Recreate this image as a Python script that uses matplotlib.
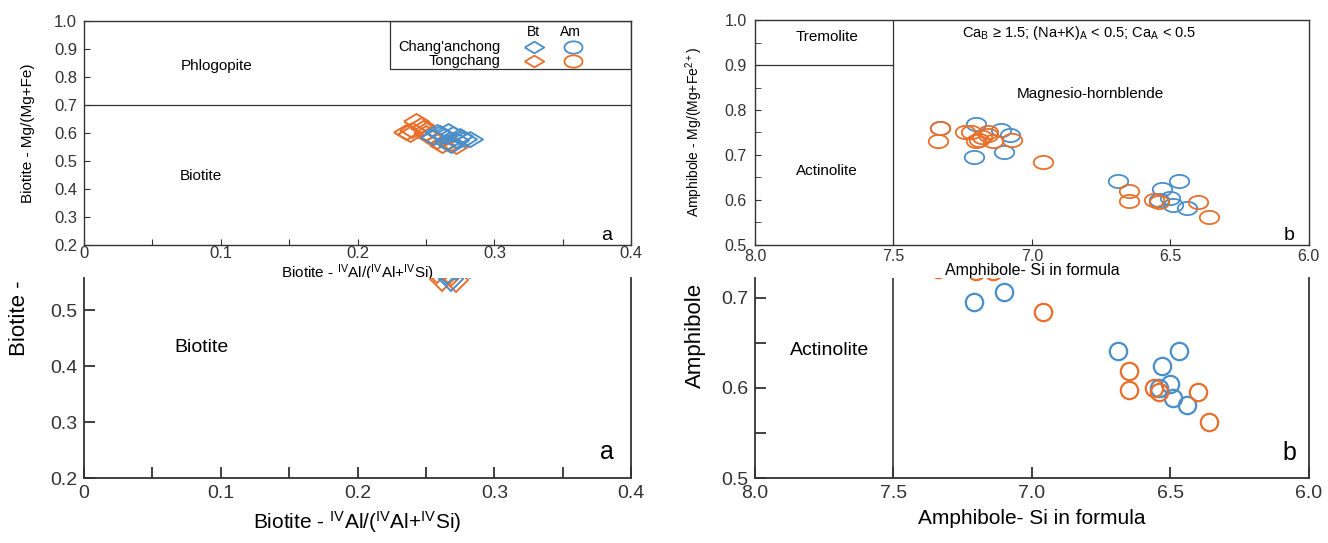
import numpy as np
import matplotlib
matplotlib.use("Agg")
import matplotlib.pyplot as plt
from matplotlib.patches import Rectangle

plt.rcParams["font.family"] = ["Liberation Sans", "DejaVu Sans"]
plt.rcParams["mathtext.fontset"] = "custom"
plt.rcParams["mathtext.rm"] = "Liberation Sans"
plt.rcParams["mathtext.it"] = "Liberation Sans:italic"

# ── Data ──────────────────────────────────────────────────────────
bt_chang_x = [0.255, 0.260, 0.263, 0.266, 0.270, 0.272, 0.275, 0.278, 0.282, 0.265, 0.258, 0.268]
bt_chang_y = [0.585, 0.600, 0.590, 0.606, 0.598, 0.575, 0.590, 0.580, 0.578, 0.568, 0.605, 0.556]
bt_tong_x = [0.235, 0.240, 0.243, 0.246, 0.250, 0.252, 0.255, 0.258, 0.262, 0.268, 0.272, 0.248, 0.238]
bt_tong_y = [0.603, 0.612, 0.643, 0.628, 0.600, 0.590, 0.585, 0.570, 0.556, 0.565, 0.553, 0.618, 0.598]

am_chang_si = [7.33, 7.20, 7.21, 7.11, 7.08, 7.10, 6.69, 6.47, 6.53, 6.50, 6.49, 6.44, 6.54]
am_chang_mg = [0.759, 0.769, 0.695, 0.756, 0.744, 0.707, 0.641, 0.641, 0.624, 0.604, 0.589, 0.581, 0.600]
am_tong_si = [7.34, 7.33, 7.24, 7.22, 7.20, 7.18, 7.16, 7.19, 7.14, 7.07, 7.16,
              6.96, 6.65, 6.65, 6.56, 6.54, 6.40, 6.36]
am_tong_mg = [0.732, 0.759, 0.752, 0.750, 0.730, 0.741, 0.744, 0.733, 0.730, 0.733, 0.752,
              0.684, 0.619, 0.598, 0.600, 0.596, 0.595, 0.562]

bt_xticks = [0, 0.05, 0.1, 0.15, 0.2, 0.25, 0.3, 0.35, 0.4]
bt_xlabels = ["0", "", "0.1", "", "0.2", "", "0.3", "", "0.4"]
am_xticks = [8.0, 7.5, 7.0, 6.5, 6.0]
am_xlabels = ["8.0", "7.5", "7.0", "6.5", "6.0"]

BLUE = "#4a8fc9"
ORANGE = "#e8702a"
LINE = "#333333"

# squashed marker shapes for the upper (vertically compressed) panels
t = np.linspace(0, 2 * np.pi, 60)
ellipse = np.column_stack([np.cos(t), 0.68 * np.sin(t)])
flat_diamond = [(-1, 0), (0, 0.6), (1, 0), (0, -0.6), (-1, 0)]

fig = plt.figure(figsize=(13.28, 5.43), dpi=100)

ax_bt = fig.add_axes([0.0633, 0.549, 0.412, 0.412])
ax_am = fig.add_axes([0.5685, 0.549, 0.417, 0.414])
ax_bt2 = fig.add_axes([0.0633, 0.1197, 0.412, 0.368])
ax_am2 = fig.add_axes([0.5685, 0.1197, 0.417, 0.368])


def style(ax, lw=1.0):
    for s in ax.spines.values():
        s.set_color(LINE)
        s.set_linewidth(lw)
    ax.tick_params(direction="in", which="both", top=False, right=False, colors=LINE)


# ── Biotite (top) ─────────────────────────────────────────────────
ax = ax_bt
style(ax)
ax.axhline(0.7, color=LINE, lw=0.9)
ax.plot(bt_tong_x, bt_tong_y, ls="none", marker=flat_diamond, ms=18,
        mfc="none", mec=ORANGE, mew=1.4)
ax.plot(bt_chang_x, bt_chang_y, ls="none", marker=flat_diamond, ms=18,
        mfc="none", mec=BLUE, mew=1.4)
ax.set_xlim(0, 0.4)
ax.set_ylim(0.2, 1.0)
ax.set_xticks(bt_xticks)
ax.set_xticklabels(bt_xlabels)
ax.set_yticks(np.arange(0.2, 1.01, 0.1))
ax.tick_params(axis="both", which="major", labelsize=12, length=4)
ax.tick_params(axis="x", which="major", pad=1)
ax.tick_params(axis="y", which="major", pad=5)
ax.set_xlabel(r"Biotite - $^{\mathrm{IV}}$Al/($^{\mathrm{IV}}$Al+$^{\mathrm{IV}}$Si)",
              fontsize=11, labelpad=1)
ax.set_ylabel("Biotite - Mg/(Mg+Fe)", fontsize=11, labelpad=14)
ax.text(0.097, 0.84, "Phlogopite", fontsize=11, ha="center", va="center")
ax.text(0.0855, 0.445, "Biotite", fontsize=11, ha="center", va="center")
ax.text(0.382, 0.233, "a", fontsize=14, ha="center", va="center")

# legend box
ax.add_patch(Rectangle((0.559, 0.785), 0.441, 0.215, transform=ax.transAxes,
                       fill=False, ec=LINE, lw=0.9))
ax.text(0.822, 0.952, "Bt", transform=ax.transAxes, fontsize=10, ha="center", va="center")
ax.text(0.888, 0.952, "Am", transform=ax.transAxes, fontsize=10, ha="center", va="center")
ax.text(0.762, 0.885, "Chang'anchong", transform=ax.transAxes, fontsize=10.5, ha="right", va="center")
ax.text(0.762, 0.823, "Tongchang", transform=ax.transAxes, fontsize=10.5, ha="right", va="center")
for yy, col in [(0.885, BLUE), (0.823, ORANGE)]:
    ax.plot([0.822], [yy], transform=ax.transAxes, marker=flat_diamond, ms=14,
            mfc="none", mec=col, mew=1.3, ls="none")
    ax.plot([0.893], [yy], transform=ax.transAxes, marker=ellipse, ms=13,
            mfc="none", mec=col, mew=1.3, ls="none")

# ── Amphibole (top) ───────────────────────────────────────────────
ax = ax_am
style(ax)
ax.plot([7.5, 7.5], [0.5, 1.0], color=LINE, lw=0.9)
ax.plot([8.0, 7.5], [0.9, 0.9], color=LINE, lw=0.9)
ax.plot(am_chang_si, am_chang_mg, ls="none", marker=ellipse, ms=14,
        mfc="none", mec=BLUE, mew=1.3)
ax.plot(am_tong_si, am_tong_mg, ls="none", marker=ellipse, ms=14,
        mfc="none", mec=ORANGE, mew=1.3)
ax.set_xlim(8.0, 6.0)
ax.set_ylim(0.5, 1.0)
ax.set_xticks(am_xticks)
ax.set_xticklabels(am_xlabels)
ax.set_yticks(np.arange(0.5, 1.01, 0.1))
ax.set_yticks(np.arange(0.55, 1.0, 0.1), minor=True)
ax.tick_params(axis="both", which="major", labelsize=11.5, length=4)
ax.tick_params(axis="x", which="major", pad=3)
ax.tick_params(axis="y", which="major", pad=6)
ax.tick_params(axis="both", which="minor", length=4)
ax.set_xlabel("Amphibole- Si in formula", fontsize=11.5, labelpad=-1)
ax.set_ylabel(r"Amphibole - Mg/(Mg+Fe$^{\mathrm{2+}}$)", fontsize=10, labelpad=14)
ax.text(7.74, 0.962, "Tremolite", fontsize=11, ha="center", va="center")
ax.text(7.74, 0.665, "Actinolite", fontsize=11, ha="center", va="center")
ax.text(6.79, 0.835, "Magnesio-hornblende", fontsize=11, ha="center", va="center")
ax.text(6.83, 0.972, r"Ca$_{\mathrm{B}}$ ≥ 1.5; (Na+K)$_{\mathrm{A}}$ < 0.5; Ca$_{\mathrm{A}}$ < 0.5",
        fontsize=10.5, ha="center", va="center")
ax.text(6.07, 0.521, "b", fontsize=14, ha="center", va="center")

# ── Biotite (bottom, enlarged) ────────────────────────────────────
ax = ax_bt2
style(ax, lw=1.3)
ax.spines["top"].set_visible(False)
ax.plot(bt_tong_x, bt_tong_y, ls="none", marker="D", ms=12,
        mfc="none", mec=ORANGE, mew=1.4)
ax.plot(bt_chang_x, bt_chang_y, ls="none", marker="D", ms=12,
        mfc="none", mec=BLUE, mew=1.4)
ax.set_xlim(0, 0.4)
ax.set_ylim(0.2, 0.557)
ax.set_xticks(bt_xticks)
ax.set_xticklabels(bt_xlabels)
ax.set_yticks([0.2, 0.3, 0.4, 0.5])
ax.tick_params(axis="both", which="major", labelsize=14, length=8, width=1.3, pad=5)
ax.set_xlabel(r"Biotite - $^{\mathrm{IV}}$Al/($^{\mathrm{IV}}$Al+$^{\mathrm{IV}}$Si)",
              fontsize=15, labelpad=5)
ax.text(0.0855, 0.4335, "Biotite", fontsize=14, ha="center", va="center")
ax.text(0.382, 0.247, "a", fontsize=18, ha="center", va="center")

# ── Amphibole (bottom, enlarged) ──────────────────────────────────
ax = ax_am2
style(ax, lw=1.3)
ax.spines["top"].set_visible(False)
ax.plot([7.5, 7.5], [0.5, 1.0], color=LINE, lw=1.2)
ax.plot(am_chang_si, am_chang_mg, ls="none", marker="o", ms=12.5,
        mfc="none", mec=BLUE, mew=1.6)
ax.plot(am_tong_si, am_tong_mg, ls="none", marker="o", ms=12.5,
        mfc="none", mec=ORANGE, mew=1.6)
ax.set_xlim(8.0, 6.0)
ax.set_ylim(0.5, 0.722)
ax.set_xticks(am_xticks)
ax.set_xticklabels(am_xlabels)
ax.set_yticks([0.5, 0.6, 0.7])
ax.set_yticks([0.55, 0.65], minor=True)
ax.tick_params(axis="both", which="major", labelsize=14, length=8, width=1.3, pad=5)
ax.tick_params(axis="both", which="minor", length=8, width=1.3)
ax.set_xlabel("Amphibole- Si in formula", fontsize=15, labelpad=5)
ax.text(7.73, 0.642, "Actinolite", fontsize=14, ha="center", va="center")
ax.text(6.07, 0.528, "b", fontsize=18, ha="center", va="center")

# cut-off y labels of the enlarged view
fig.text(0.015, 1 - 280 / 543, "Biotite -", rotation=90, fontsize=16,
         ha="center", va="top")
fig.text(0.524, 1 - 283 / 543, "Amphibole", rotation=90, fontsize=16,
         ha="center", va="top")

fig.savefig("out.png", dpi=100)
